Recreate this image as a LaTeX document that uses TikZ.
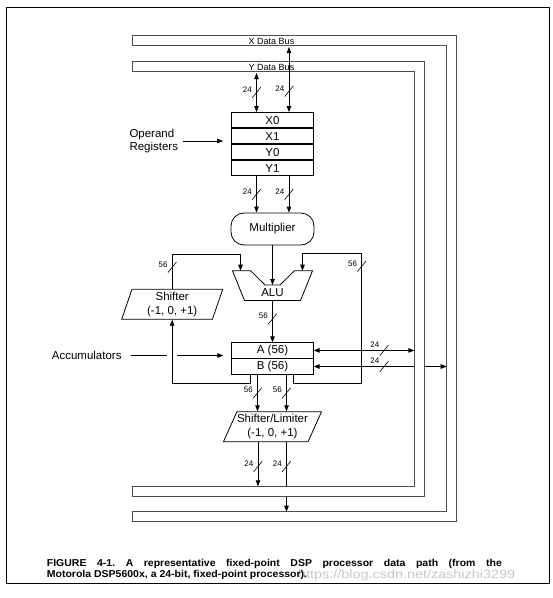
\documentclass[tikz,border=0pt]{standalone}
\usepackage{fontspec}
\setmainfont{Liberation Sans}
\newfontfamily\capfont[FakeStretch=1.05]{Liberation Sans}
\newfontfamily\wmfont[FakeStretch=1.2]{Liberation Sans}
\usetikzlibrary{arrows.meta,positioning,calc,shapes.geometric,shapes.misc}

\begin{document}
\begin{tikzpicture}[x=1pt, y=-1pt,
  reg/.style={draw, line width=0.8pt, minimum width=82pt, minimum height=15.2pt,
    inner sep=0, font=\fontsize{11.5}{13.5}\selectfont},
  lbl/.style={font=\fontsize{11.5}{13.5}\selectfont, inner sep=0},
  num/.style={font=\fontsize{8}{9}\selectfont, inner sep=0},
  busname/.style={font=\fontsize{9}{10}\selectfont, inner sep=0},
  bus/.style={draw=black!70, line width=0.7pt},
  skew/.style={draw, line width=0.8pt, trapezium, trapezium stretches body,
    minimum height=30pt, inner sep=0, align=center, font=\fontsize{11.5}{13.5}\selectfont},
  wire/.style={line width=0.9pt},
  arr/.style={-{Triangle[length=6pt,width=4.5pt]}, line width=0.9pt},
  darr/.style={{Triangle[length=6pt,width=4.5pt]}-{Triangle[length=6pt,width=4.5pt]}, line width=0.9pt},
  slash/.style={strike out, draw, line width=0.6pt, minimum width=8pt, minimum height=10pt, inner sep=0},
  vw/.style={slash, label={[num, yshift=3pt]left:#1}},
  hw/.style={slash, label={[num, yshift=-3pt]north west:#1}}
]
\useasboundingbox (0,0) rectangle (553,598);
\draw[line width=1pt] (6,7) rectangle (549,583);

% data buses
\draw[bus] (132,35.7) -- (456.7,35.7) -- (456.7,521.7) -- (132,521.7) -- (132,511.7)
  -- (446.7,511.7) -- (446.7,45.7) -- (132,45.7) -- cycle;
\draw[bus] (132,61.7) -- (424.3,61.7) -- (424.3,496.7) -- (132,496.7) -- (132,486.3)
  -- (414.3,486.3) -- (414.3,71.7) -- (132,71.7) -- cycle;
\node[busname] (xbl) at (271.5,41) {X Data Bus};
\node[busname] (ybl) at (271.5,67) {Y Data Bus};
\coordinate (xtap) at (0,47);
\coordinate (ytap) at (0,73);
\coordinate (yin) at (414.3,0);
\coordinate (yout) at (424.3,0);
\coordinate (xin) at (446.7,0);
\coordinate (ybot) at (0,486.3);
\coordinate (yobot) at (0,496.7);
\coordinate (xbot) at (0,511.7);

% operand registers
\node[reg] (rx0) at (272.5,120.1) {X0};
\node[reg, below=0pt of rx0] (rx1) {X1};
\node[reg, below=0pt of rx1] (ry0) {Y0};
\node[reg, below=0pt of ry0] (ry1) {Y1};
\node[lbl, anchor=west, align=left] (oplbl) at (129.3,141) {Operand\\Registers};
\draw[arr, line width=0.6pt] ([xshift=5pt]oplbl.east) -- ([xshift=-8pt]rx1.west |- oplbl.east);

\draw[darr] ([xshift=-16pt]rx0.north) -- node[vw=24]{} ([xshift=-16pt]rx0.north |- ytap);
\draw[darr] ([xshift=16.5pt]rx0.north) -- node[vw=24, pos=0.32]{} ([xshift=16.5pt]rx0.north |- xtap);

% multiplier and alu
\node[draw, line width=0.8pt, rounded corners=13pt, minimum width=83pt, minimum height=32pt, lbl]
  (mul) at (272.5,229) {Multiplier};
\draw[arr] ([xshift=-16pt]ry1.south) -- node[vw=24]{} ([xshift=-16pt]mul.north);
\draw[arr] ([xshift=16.5pt]ry1.south) -- node[vw=24]{} ([xshift=16.5pt]mul.north);

\coordinate (aluL) at (240.5,270.7);
\coordinate (aluR) at (302.5,270.7);
\coordinate (aluM) at (272.5,285);
\coordinate (aluout) at (272.5,300.5);
\draw[line width=0.8pt] (232.5,270.7) -- (250.5,270.7) -- (265,285) -- (280,285) -- (294.5,270.7)
  -- (312.5,270.7) -- (300.5,300.5) -- (244.5,300.5) -- cycle;
\node[lbl] (alu) at (272.5,293) {ALU};
\draw[arr] (mul.south) -- (aluM);

% accumulators
\node[reg, minimum width=81.5pt, minimum height=15.3pt] (accA) at (272.5,350.4) {A (56)};
\node[reg, minimum width=81.5pt, minimum height=15.3pt, below=0pt of accA] (accB) {B (56)};
\draw[arr] (aluout) -- node[vw=56, pos=0.44]{} (accA.north);

\node[skew, trapezium left angle=67, trapezium right angle=113, minimum width=101pt]
  (shf) at (172.2,304.3) {Shifter\\(-1, 0, +1)};
\draw[arr] ([xshift=-22.5pt]accB.south) -- ++(0,8.4) -| (shf.south -| shf.center);
\draw[arr] (shf.north -| shf.center) |- node[vw=56, pos=0.31]{} ([yshift=16.7pt]aluL) -- (aluL);

\coordinate (rloop) at (361.7,253.3);
\draw[arr] ([xshift=21pt]accB.south) -- ++(0,8.4) -| node[vw=56, pos=0.95]{} (rloop) -| (aluR);

\node[lbl, anchor=west] (acclbl) at (51.7,355.5) {Accumulators};
\draw[line width=0.6pt] ([xshift=9pt]acclbl.east) -- ([xshift=-5pt]shf.center |- acclbl.east);
\draw[arr, line width=0.6pt] ([xshift=5pt]shf.center |- acclbl.east) -- ([xshift=-8pt]accA.west |- acclbl.east);

\draw[darr] (accA.east) -- node[hw=24, pos=0.7]{} (accA.east -| yin);
\draw[{Triangle[length=6pt,width=4.5pt]}-, wire] (accB.east) -- node[hw=24, pos=0.7]{} (accB.east -| yin);
\draw[arr] (accB.east -| yout) -- (accB.east -| xin);

% shifter / limiter
\node[skew, trapezium left angle=61, trapezium right angle=119, minimum width=98pt]
  (shl) at (272.5,426.7) {Shifter/Limiter\\(-1, 0, +1)};
\draw[arr] ([xshift=-15pt]accB.south) -- node[vw=56]{} ([xshift=-15pt]accB.south |- shl.north);
\draw[arr] ([xshift=14pt]accB.south) -- node[vw=56]{} ([xshift=14pt]accB.south |- shl.north);

\draw[arr] ([xshift=-14.5pt]shl.center |- shl.south) -- node[vw=24, pos=0.55]{} ([xshift=-14.5pt]shl.center |- ybot);
\draw[wire] ([xshift=14pt]shl.center |- shl.south) -- node[vw=24, pos=0.55]{} ([xshift=14pt]shl.center |- ybot);
\draw[arr] ([xshift=14pt]shl.center |- yobot) -- ([xshift=14pt]shl.center |- xbot);

% caption
\node[anchor=base west, inner sep=0, text=black!22, font=\wmfont\fontsize{12}{14}\selectfont]
  (wm) at (298,578) {https://blog.csdn.net/zashizhi3299};
\node[anchor=north west, inner sep=0, align=left, font=\capfont\bfseries\fontsize{10}{11.5}\selectfont\frenchspacing]
  (cap) at (46.7,559) {\makebox[455pt][s]{FIGURE 4-1. A representative fixed-point DSP processor data path (from the}\\
  Motorola DSP5600x, a 24-bit, fixed-point processor).};
\end{tikzpicture}
\end{document}
